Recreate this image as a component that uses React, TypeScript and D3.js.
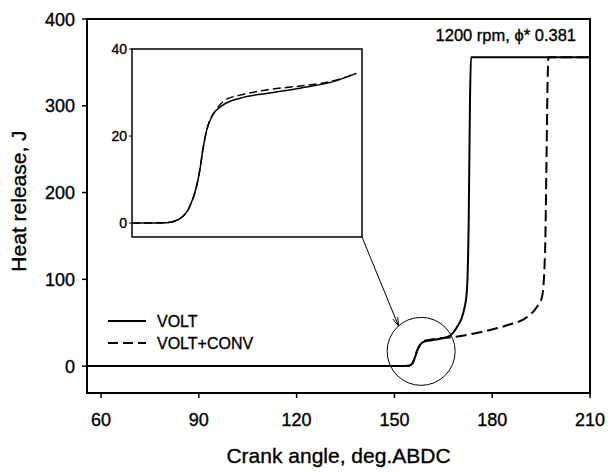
import React from "react";
import * as d3 from "d3";

// ---------- data ----------
const xTicks = [60, 90, 120, 150, 180, 210];
const yTicks = [0, 100, 200, 300, 400];
const insetYTicks = [0, 20, 40];

const voltAngle = [55.7, 152, 154.5, 155.5, 156.3, 157, 157.8, 158.8, 161, 164, 167, 169.2, 171.1, 172.2, 172.8, 173.2, 173.5, 210];
const voltHeat = [0, 0, 0.5, 3, 10, 18, 24, 27.7, 29.5, 31.5, 35, 45, 61, 85, 170, 310, 356, 356];

const convAngle = [55.7, 152, 154.5, 155.5, 156.3, 157, 157.8, 158.8, 161, 164, 168, 176.3, 184.5, 190.7, 193.7, 195.3, 196.2, 196.7, 197.0, 197.3, 210];
const convHeat = [0, 0, 0.5, 3, 10, 18, 24, 28.5, 30.5, 32, 33.5, 39, 47, 56.5, 68, 80, 130, 250, 330, 356, 356];

const insetVoltAngle = [150, 153, 154.2, 155, 155.6, 155.9, 156.2, 156.5, 157, 157.9, 159.4, 161.7, 164.6, 167.5, 169.5];
const insetVoltHeat = [0, 0.1, 1.1, 3.7, 8.3, 12.2, 17.5, 21.4, 24.8, 27.1, 28.7, 29.8, 31.0, 32.5, 34.4];

const insetConvAngle = [150, 153, 154.2, 155, 155.6, 155.9, 156.2, 156.5, 157, 157.2, 158.1, 159.4, 161.7, 164.6, 167.2, 169.5];
const insetConvHeat = [0, 0.1, 1.1, 3.7, 8.3, 12.2, 17.5, 21.4, 24.8, 25.6, 28.3, 29.4, 30.6, 31.5, 32.5, 34.4];

const seriesNames = ["VOLT", "VOLT+CONV"];
const titleText = "1200 rpm, \u03D5* 0.381";
const xLabel = "Crank angle, deg.ABDC";
const yLabel = "Heat release, J";

// ---------- layout ----------
const W = 608, H = 474;
const FONT = "'Liberation Sans', Arial, Helvetica, sans-serif";

export default function App() {
  const x = d3.scaleLinear().domain([55.7, 210]).range([87, 590]);
  const y = d3.scaleLinear().domain([-31, 400]).range([393, 19]);
  const ix = d3.scaleLinear().domain([150, 170]).range([132, 362]);
  const iy = d3.scaleLinear().domain([-3.2, 40]).range([237, 49]);

  const zip = (a: number[], b: number[]) => a.map((v, i) => [v, b[i]] as [number, number]);
  const mainLine = d3.line<[number, number]>().x(d => x(d[0])).y(d => y(d[1])).curve(d3.curveMonotoneX);
  const insetLine = d3.line<[number, number]>().x(d => ix(d[0])).y(d => iy(d[1])).curve(d3.curveMonotoneX);

  const [x0, x1] = x.range();
  const [yb, yt] = y.range();
  const [ix0, ix1] = ix.range();
  const [iyb, iyt] = iy.range();

  // zoom circle around the step
  const cx = x(158.2), cy = y(17), r = 34;
  // arrow from inset corner to circle
  const ax0 = ix1, ay0 = iyb;
  const ang = Math.atan2(cy - ay0, cx - ax0);
  const ax1 = cx - Math.cos(ang - 0.25) * r, ay1 = cy - Math.sin(ang - 0.25) * r;
  const aa = Math.atan2(ay1 - ay0, ax1 - ax0);
  const ah = 9, aw = 0.3;
  const head = `M${ax1},${ay1} L${ax1 - ah * Math.cos(aa - aw)},${ay1 - ah * Math.sin(aa - aw)} M${ax1},${ay1} L${ax1 - ah * Math.cos(aa + aw)},${ay1 - ah * Math.sin(aa + aw)}`;

  const txt = { stroke: "#000", strokeWidth: 0.35 };

  return (
    <svg width={W} height={H} style={{ position: "absolute", left: 0, top: 0, background: "#fff" }} fontFamily={FONT}>
      <rect x={0} y={0} width={W} height={H} fill="#fff" />
      <defs>
        <clipPath id="mainClip"><rect x={x0} y={yt} width={x1 - x0} height={yb - yt} /></clipPath>
        <clipPath id="insetClip"><rect x={ix0} y={iyt} width={ix1 - ix0} height={iyb - iyt} /></clipPath>
      </defs>

      {/* main curves */}
      <g clipPath="url(#mainClip)" fill="none" stroke="#000">
        <path d={mainLine(zip(convAngle, convHeat)) || ""} strokeWidth={2} strokeDasharray="11,5" />
        <path d={mainLine(zip(voltAngle, voltHeat)) || ""} strokeWidth={2} />
      </g>

      {/* frame */}
      <rect x={x0} y={yt} width={x1 - x0} height={yb - yt} fill="none" stroke="#000" strokeWidth={2} />

      {/* x ticks */}
      {xTicks.map(t => (
        <g key={"x" + t}>
          <line x1={x(t)} x2={x(t)} y1={yb} y2={yb + 5} stroke="#000" strokeWidth={1.5} />
          <text x={x(t)} y={426} fontSize={18} textAnchor="middle" {...txt}>{t}</text>
        </g>
      ))}
      {/* y ticks */}
      {yTicks.map(t => (
        <g key={"y" + t}>
          <line x1={x0 - 5} x2={x0} y1={y(t)} y2={y(t)} stroke="#000" strokeWidth={1.5} />
          <text x={75} y={y(t) + 6.5} fontSize={18} textAnchor="end" {...txt}>{t}</text>
        </g>
      ))}
      <text x={(x0 + x1) / 2} y={463} fontSize={21} textAnchor="middle" {...txt}>{xLabel}</text>
      <text transform={`translate(26,${(yt + yb) / 2 - 5}) rotate(-90)`} fontSize={21} textAnchor="middle" {...txt}>{yLabel}</text>

      {/* title */}
      <text x={576} y={41} fontSize={16.5} textAnchor="end" {...txt}>{titleText}</text>

      {/* legend */}
      <line x1={108} x2={146} y1={321} y2={321} stroke="#000" strokeWidth={2} />
      <text x={157} y={327} fontSize={16} {...txt}>{seriesNames[0]}</text>
      <line x1={108} x2={146} y1={343} y2={343} stroke="#000" strokeWidth={2} strokeDasharray="10,5" />
      <text x={157} y={349} fontSize={16} {...txt}>{seriesNames[1]}</text>

      {/* zoom circle & arrow */}
      <circle cx={cx} cy={cy} r={r} fill="none" stroke="#000" strokeWidth={1} />
      <line x1={ax0} y1={ay0} x2={ax1} y2={ay1} stroke="#000" strokeWidth={1} />
      <path d={head} fill="none" stroke="#000" strokeWidth={1} />

      {/* inset */}
      <rect x={ix0} y={iyt} width={ix1 - ix0} height={iyb - iyt} fill="#fff" stroke="#000" strokeWidth={1.5} />
      <g clipPath="url(#insetClip)" fill="none" stroke="#000">
        <path d={insetLine(zip(insetConvAngle, insetConvHeat)) || ""} strokeWidth={1.5} strokeDasharray="8,4" />
        <path d={insetLine(zip(insetVoltAngle, insetVoltHeat)) || ""} strokeWidth={1.5} />
      </g>
      {insetYTicks.map(t => (
        <g key={"iy" + t}>
          <line x1={ix0 - 3} x2={ix0} y1={iy(t)} y2={iy(t)} stroke="#000" strokeWidth={1} />
          <text x={127} y={iy(t) + 5} fontSize={14} textAnchor="end" {...txt}>{t}</text>
        </g>
      ))}
    </svg>
  );
}
